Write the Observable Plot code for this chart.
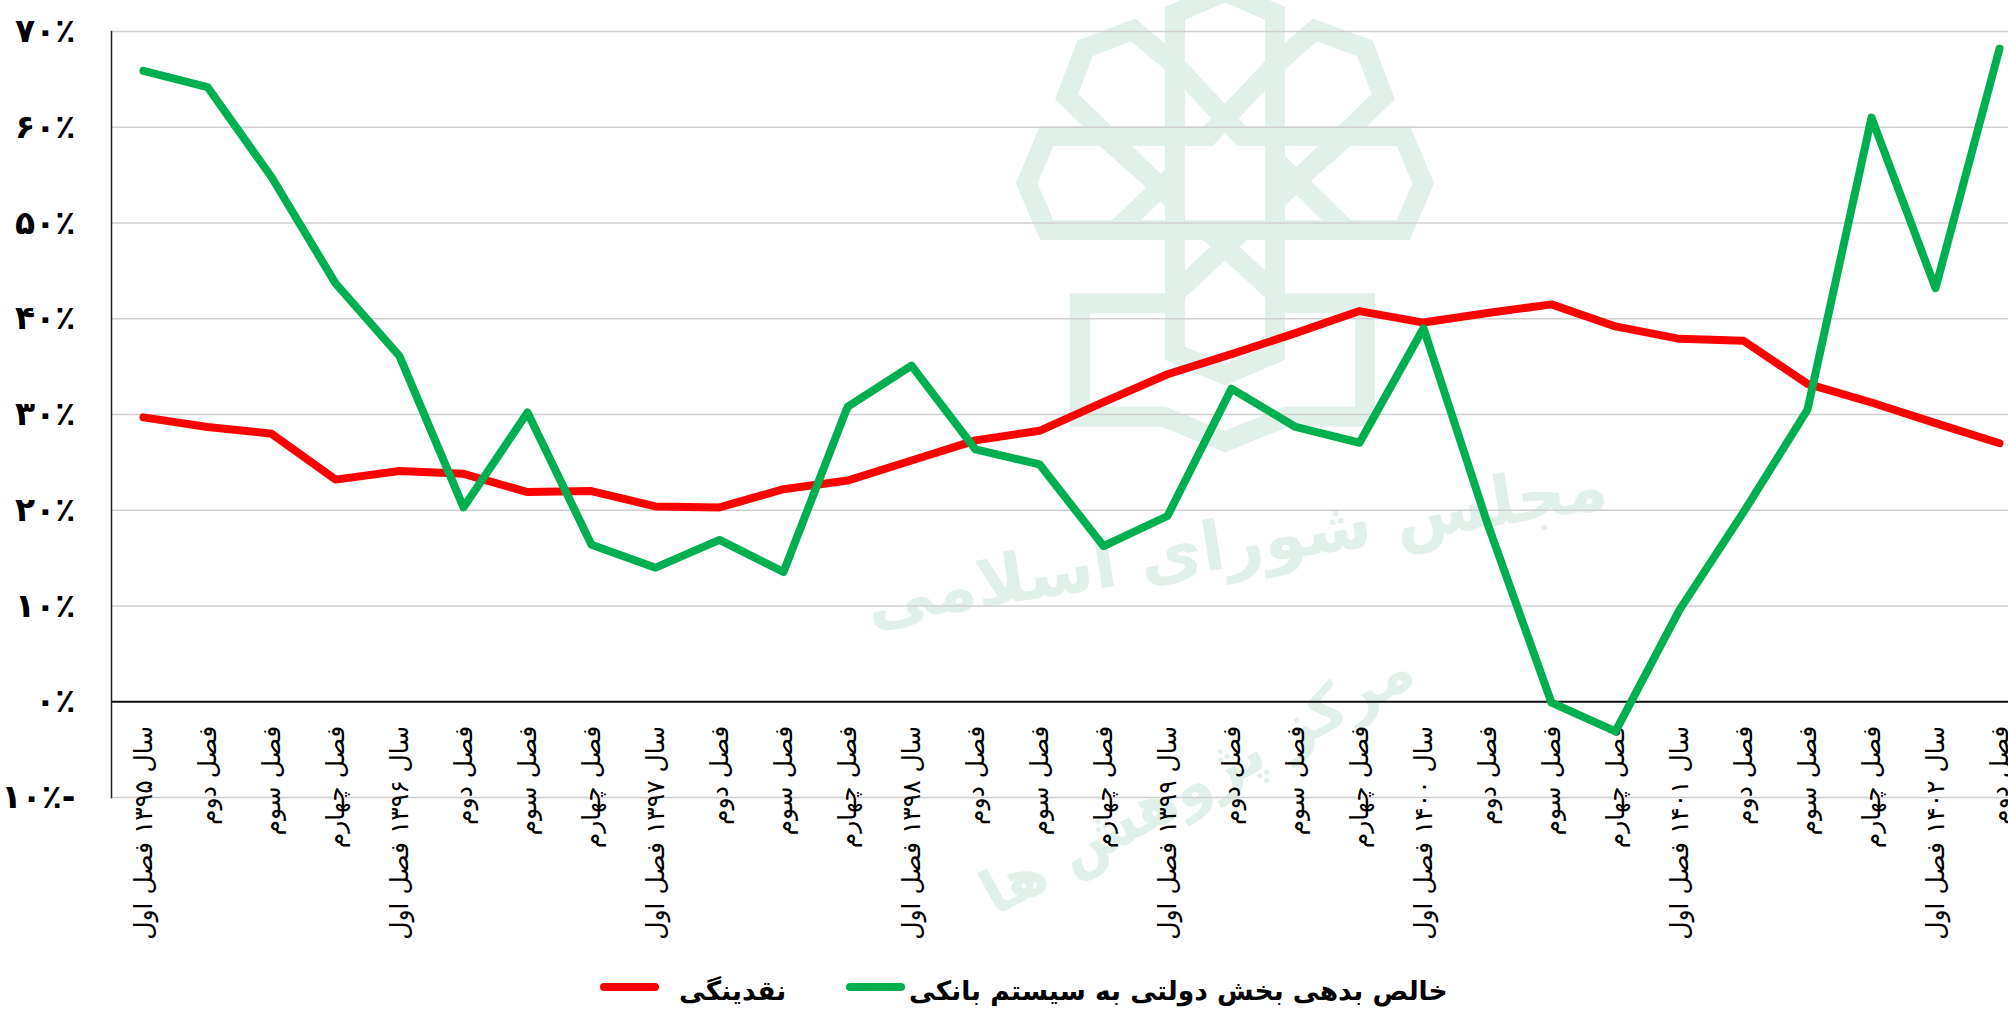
<!DOCTYPE html>
<html lang="fa">
<head>
<meta charset="utf-8">
<script src="https://cdn.jsdelivr.net/npm/d3@7"></script>
<script src="https://cdn.jsdelivr.net/npm/@observablehq/plot@0.6"></script>
<style>
html,body{margin:0;padding:0;width:2008px;height:1011px;overflow:hidden;background:#fff}
#wrap{position:relative;width:2008px;height:1011px;overflow:hidden}
#logo{position:absolute;left:0;top:0}
#chart{position:absolute;left:0;top:0}
.leg{position:absolute;font:bold 26.5px "DejaVu Sans",sans-serif;color:#000;white-space:nowrap;line-height:40px}
.sw{position:absolute;height:8px;border-radius:4px}
</style>
</head>
<body>
<div id="wrap">
<svg id="logo" width="2008" height="1011"><defs><filter id="b"><feGaussianBlur stdDeviation="1.2"/></filter></defs>
<g transform="translate(1000,0) scale(.3333)" fill="none" stroke="#e2f0ea" stroke-width="60" stroke-linejoin="miter" filter="url(#b)">
<path d="M525,195L400,90L255,145L200,290L525,605V1060L675,1125L825,1060V605L1150,290L1095,145L945,90L825,195L625,408H140L80,550L140,690H1210L1270,550L1210,408H725L525,195"/>
<path d="M525,195V40L675,-25L825,40V195"/>
<path d="M525,195V605M825,195V605"/>
<path d="M350,690L525,520M310,408L470,550M1040,408L880,550M1040,690L825,480"/>
<path d="M525,880L740,680M825,880L610,680"/>
<path d="M525,910H240V1250H490L675,1325L860,1250H1095V910H825"/>
</g></svg>
<div id="chart"></div>
<div class="sw" style="left:600px;top:983px;width:59px;background:#ff0000"></div>
<div class="leg" id="l1" style="left:679px;top:971px">نقدینگی</div>
<div class="sw" style="left:846px;top:983px;width:59px;background:#00b050"></div>
<div class="leg" id="l2" style="left:909px;top:971px">خالص بدهی بخش دولتی به سیستم بانکی</div>
</div>
<script>
const quarterLabels = [
"سال ۱۳۹۵ فصل اول","فصل دوم","فصل سوم","فصل چهارم",
"سال ۱۳۹۶ فصل اول","فصل دوم","فصل سوم","فصل چهارم",
"سال ۱۳۹۷ فصل اول","فصل دوم","فصل سوم","فصل چهارم",
"سال ۱۳۹۸ فصل اول","فصل دوم","فصل سوم","فصل چهارم",
"سال ۱۳۹۹ فصل اول","فصل دوم","فصل سوم","فصل چهارم",
"سال ۱۴۰۰ فصل اول","فصل دوم","فصل سوم","فصل چهارم",
"سال ۱۴۰۱ فصل اول","فصل دوم","فصل سوم","فصل چهارم",
"سال ۱۴۰۲ فصل اول","فصل دوم"];
const liquidity = [29.7,28.7,28.0,23.2,24.1,23.8,21.9,22.0,20.4,20.3,22.2,23.1,25.2,27.3,28.3,31.3,34.2,36.3,38.5,40.8,39.6,40.6,41.5,39.2,37.9,37.7,33.2,31.25,29.1,27.0];
const govDebt = [65.9,64.2,54.8,43.7,36.1,20.3,30.2,16.4,14.0,16.9,13.55,30.8,35.1,26.35,24.8,16.25,19.4,32.7,28.7,27.05,39.0,18.6,-0.1,-3.1,9.6,19.8,30.5,61.0,43.2,68.2];
const yTicks = [-10,0,10,20,30,40,50,60,70];
const yTickLabels = ["۱۰٪-","۰٪","۱۰٪","۲۰٪","۳۰٪","۴۰٪","۵۰٪","۶۰٪","۷۰٪"];
const watermark = ["مجلس شورای اسلامی","مرکز پژوهش ها"];

const plot = Plot.plot({
  width:2008, height:960,
  marginLeft:111, marginRight:0, marginTop:31, marginBottom:163,
  style:{background:"transparent",fontFamily:"'DejaVu Sans',sans-serif",overflow:"hidden",maxWidth:"none"},
  x:{type:"linear",domain:[0,29],range:[143,1999],axis:null},
  y:{domain:[-10,70],range:[797,31],axis:null},
  marks:[
    Plot.text([watermark[0]],{x:()=>17.08,y:()=>16.4,rotate:-9,text:d=>d,fontSize:68,fontWeight:"bold",fill:"#e2f0ea",fontFamily:"'DejaVu Sans',sans-serif"}),
    Plot.text([watermark[1]],{x:()=>16.47,y:()=>-8.4,rotate:-29,text:d=>d,fontSize:61,fontWeight:"bold",fill:"#e2f0ea",fontFamily:"'DejaVu Sans',sans-serif"}),
    Plot.gridY(yTicks,{stroke:"#d0d0d0",strokeOpacity:1,strokeWidth:1.5}),
    Plot.ruleY([0],{stroke:"#111",strokeWidth:2}),
    Plot.frame({anchor:"left",stroke:"#222",strokeWidth:1.5}),
    Plot.axisY(yTicks,{tickSize:0,tickPadding:36,fontSize:33,fontWeight:"bold",fill:"#000",
      tickFormat:d=>yTickLabels[yTicks.indexOf(d)],label:null}),
    Plot.text(quarterLabels,{x:(d,i)=>i,y:()=>-2.5,text:d=>d,rotate:-90,textAnchor:"end",lineAnchor:"middle",fontSize:25,fill:"#000"}),
    Plot.line(liquidity,{x:(d,i)=>i,y:d=>d,stroke:"#ff0000",strokeWidth:8,strokeLinecap:"round",strokeLinejoin:"round"}),
    Plot.line(govDebt,{x:(d,i)=>i,y:d=>d,stroke:"#00b050",strokeWidth:8,strokeLinecap:"round",strokeLinejoin:"round"})
  ]
});
document.getElementById("chart").appendChild(plot);
</script>
</body>
</html>
